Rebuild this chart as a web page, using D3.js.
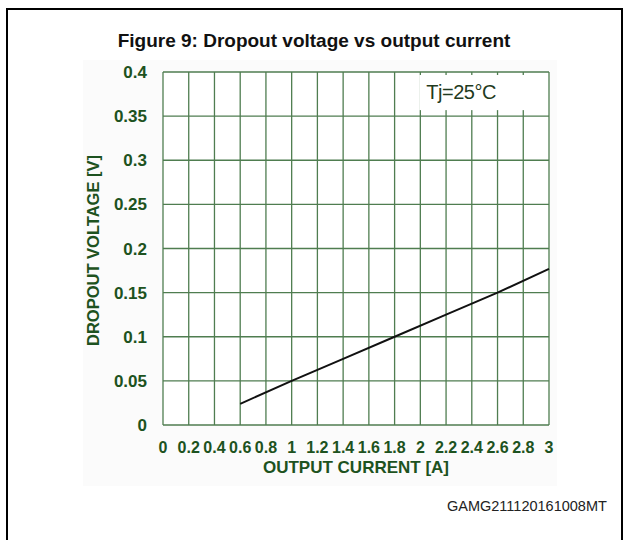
<!DOCTYPE html>
<html>
<head>
<meta charset="utf-8">
<script src="https://cdn.jsdelivr.net/npm/d3@7"></script>
<style>
  body { margin: 0; background: #fff; }
  svg { display: block; }
</style>
</head>
<body>
<div id="chart"></div>
<script>
const W = 629, H = 540;
const margin = { top: 72, right: 80, bottom: 115, left: 163 };
const width = 549 - margin.left;
const height = 425 - margin.top;

// data
const current = [0.6, 1.0, 1.4, 1.8, 2.2, 2.6, 3.0];
const dropout = [0.024, 0.05, 0.075, 0.1, 0.125, 0.15, 0.177];
const xTicks = [0, 0.2, 0.4, 0.6, 0.8, 1, 1.2, 1.4, 1.6, 1.8, 2, 2.2, 2.4, 2.6, 2.8, 3];
const yTicks = [0, 0.05, 0.1, 0.15, 0.2, 0.25, 0.3, 0.35, 0.4];

const gridColor = "#4f7d50";
const labelColor = "#1d5220";
const sans = "Liberation Sans, Arial, sans-serif";

const svg = d3.select("#chart").append("svg")
    .attr("width", W)
    .attr("height", H);

// outer frame
svg.append("path")
    .attr("d", "M7,540 L7,9 L622,9 L622,540")
    .attr("fill", "none")
    .attr("stroke", "#000")
    .attr("stroke-width", 2);

// faint panel behind the chart
svg.append("rect")
    .attr("x", 83).attr("y", 60)
    .attr("width", 474).attr("height", 426)
    .attr("fill", "#fbfbfb");

svg.append("text")
    .attr("x", 314).attr("y", 47)
    .attr("text-anchor", "middle")
    .attr("font-family", sans)
    .attr("font-weight", "bold")
    .attr("font-size", 19)
    .attr("fill", "#111")
    .text("Figure 9: Dropout voltage vs output current");

const g = svg.append("g")
    .attr("transform", "translate(" + margin.left + "," + margin.top + ")");

const x = d3.scaleLinear().domain([0, 3]).range([0, width]);
const y = d3.scaleLinear().domain([0, 0.4]).range([height, 0]);

g.append("rect")
    .attr("width", width).attr("height", height)
    .attr("fill", "#fff");

// grid
g.selectAll(".vgrid")
    .data(xTicks)
    .enter().append("line")
    .attr("x1", d => x(d)).attr("x2", d => x(d))
    .attr("y1", 0).attr("y2", height)
    .attr("stroke", gridColor)
    .attr("stroke-width", 1.3);

g.selectAll(".hgrid")
    .data(yTicks)
    .enter().append("line")
    .attr("x1", 0).attr("x2", width)
    .attr("y1", d => y(d)).attr("y2", d => y(d))
    .attr("stroke", gridColor)
    .attr("stroke-width", 1.3);

// legend box covering the grid
g.append("rect")
    .attr("x", x(2) - 1).attr("y", y(0.4) + 3)
    .attr("width", x(3) - x(2) - 0.5)
    .attr("height", y(0.35) - y(0.4) - 9)
    .attr("fill", "#fff");

g.append("text")
    .attr("x", x(2) + 6).attr("y", y(0.4) + 27)
    .attr("font-family", sans)
    .attr("font-size", 20)
    .attr("letter-spacing", -0.5)
    .attr("fill", "#1f3a20")
    .text("Tj=25°C");

// y tick labels
g.selectAll(".ylab")
    .data(yTicks)
    .enter().append("text")
    .attr("x", -16)
    .attr("y", d => y(d) + 6)
    .attr("text-anchor", "end")
    .attr("font-family", sans)
    .attr("font-size", 17)
    .attr("font-weight", "bold")
    .attr("fill", labelColor)
    .text(d => d);

// x tick labels
g.selectAll(".xlab")
    .data(xTicks)
    .enter().append("text")
    .attr("x", d => x(d))
    .attr("y", height + 28)
    .attr("text-anchor", "middle")
    .attr("font-family", "Liberation Sans Narrow, Arial Narrow, sans-serif")
    .attr("font-size", 16)
    .attr("font-weight", "bold")
    .attr("fill", labelColor)
    .text(d => d);

g.append("text")
    .attr("x", 193).attr("y", height + 48)
    .attr("text-anchor", "middle")
    .attr("font-family", sans)
    .attr("font-size", 17)
    .attr("font-weight", "bold")
    .attr("fill", labelColor)
    .text("OUTPUT CURRENT [A]");

g.append("text")
    .attr("transform", "translate(-64," + (height / 2 + 2) + ") rotate(-90)")
    .attr("text-anchor", "middle")
    .attr("font-family", sans)
    .attr("font-size", 16.5)
    .attr("font-weight", "bold")
    .attr("fill", labelColor)
    .text("DROPOUT VOLTAGE [V]");

// the curve
g.append("path")
    .datum(current.map((c, i) => [c, dropout[i]]))
    .attr("fill", "none")
    .attr("stroke", "#111")
    .attr("stroke-width", 2)
    .attr("d", d3.line()
        .x(d => x(d[0]))
        .y(d => y(d[1])));

svg.append("text")
    .attr("x", 447).attr("y", 511)
    .attr("font-family", sans)
    .attr("font-size", 14.5)
    .attr("fill", "#222")
    .text("GAMG211120161008MT");
</script>
</body>
</html>
